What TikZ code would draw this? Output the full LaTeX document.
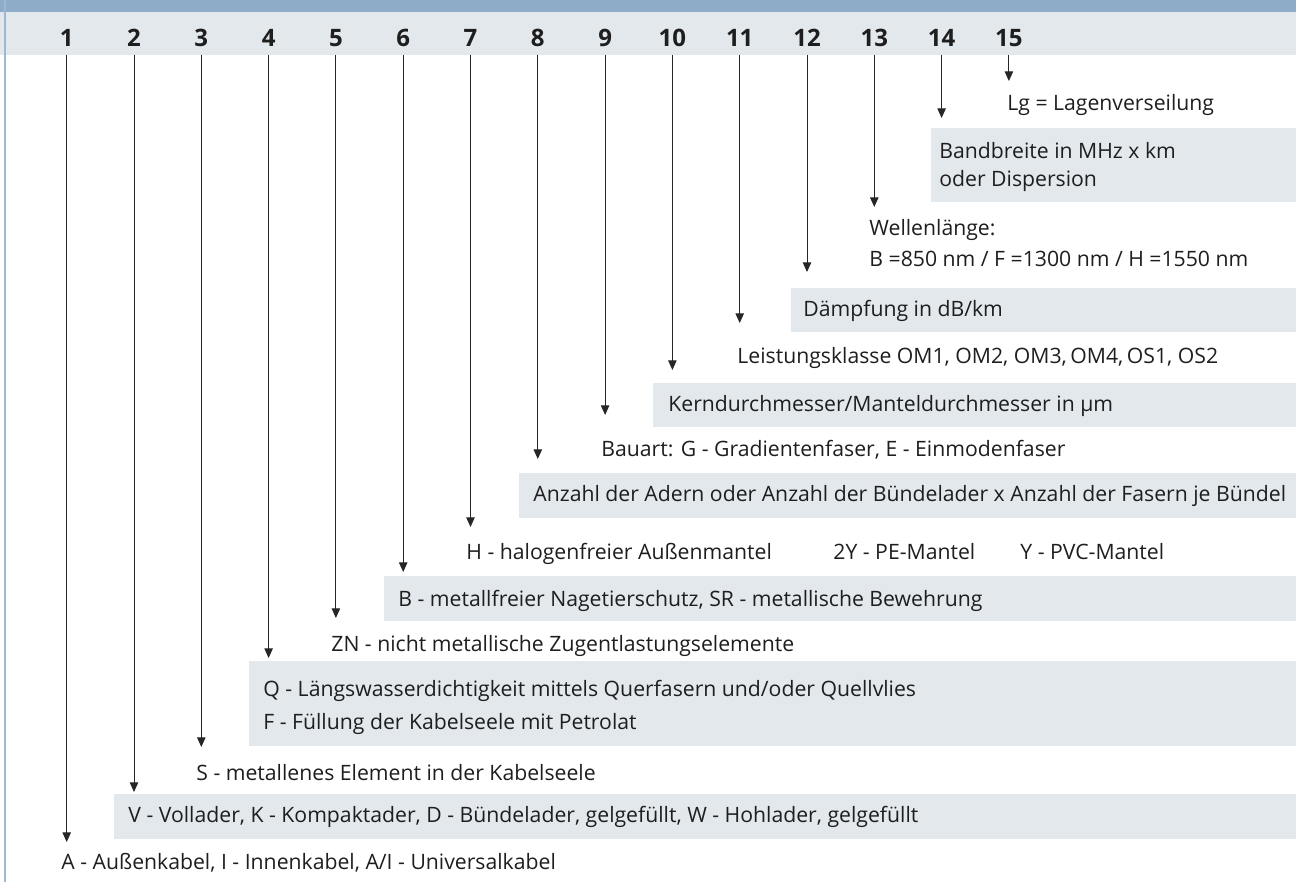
\documentclass[tikz,border=0pt]{standalone}
\usepackage{fontspec}
\setmainfont{Open Sans}
\usetikzlibrary{arrows.meta,positioning}
\definecolor{bandblau}{HTML}{8EACC8}
\definecolor{feldgrau}{HTML}{E3E8ED}
\definecolor{randblau}{HTML}{9DB8D3}
\definecolor{schrift}{HTML}{1E1E1E}

\begin{document}
\begin{tikzpicture}[
    x=0.5pt, y=-0.5pt,
    >={Triangle[length=4.8pt,width=4.2pt]},
    nummer/.style={font=\fontsize{12}{14}\selectfont\bfseries, text=schrift,
        anchor=base, inner sep=0pt},
    eintrag/.style={font=\fontsize{10.6}{13}\selectfont, text=schrift,
        anchor=base west, inner sep=0pt},
    pfeil/.style={->, line width=0.5pt, draw=black!85}
  ]
  \useasboundingbox (0,0) rectangle (1296,882);
  % Kopfleiste und Rand
  \fill[bandblau] (0,0) rectangle (1296,12);
  \fill[feldgrau] (0,12) rectangle (1296,55);
  \draw[randblau, line width=1pt] (4.5,0) -- (4.5,882);
  % graue Felder
  \fill[feldgrau] (931,128) rectangle (1296,202);
  \fill[feldgrau] (791,288) rectangle (1296,332);
  \fill[feldgrau] (653,383) rectangle (1296,427);
  \fill[feldgrau] (519,473) rectangle (1296,518);
  \fill[feldgrau] (384,576) rectangle (1296,621);
  \fill[feldgrau] (249,661) rectangle (1296,746);
  \fill[feldgrau] (114,794) rectangle (1296,839);
  % Nummern und Pfeile
  \foreach \i/\ty in {1/842,2/792,3/747,4/658,5/618,6/572,7/527,8/459,
                      9/415,10/370,11/323,12/272,13/207,14/118,15/81} {
    \node[nummer] (n\i) at ({66.7+67.3*(\i-1)},47) {\i};
    \coordinate (s\i) at ({66.7+67.3*(\i-1)},55);
    \coordinate (t\i) at ({66.7+67.3*(\i-1)},\ty);
    \draw[pfeil] (s\i) -- (t\i);
  }
  % Beschriftungen
  \node[eintrag] (lg) at (1007,110.5) {Lg = Lagenverseilung};
  \node[eintrag] (band1) at (939,158.7) {Bandbreite in MHz x km};
  \node[eintrag] (band2) at (939,186.7) {oder Dispersion};
  \node[eintrag] (welle1) at (869,235.7) {Wellenlänge:};
  \node[eintrag] (welle2) at (869,267) {B =850 nm / F =1300 nm / H =1550 nm};
  \node[eintrag] (daempf) at (803,316) {Dämpfung in dB/km};
  \node[eintrag] (klasse) at (737,364) {Leistungsklasse OM1, OM2, OM3,\,OM4,\,OS1, OS2};
  \node[eintrag] (kern) at (668,411.7) {Kerndurchmesser/Manteldurchmesser in µm};
  \node[eintrag] (bauart) at (601,456.7) {Bauart: G - Gradientenfaser, E - Einmodenfaser};
  \node[eintrag] (anzahl) at (533,501.7) {Anzahl der Adern oder Anzahl der Bündelader x Anzahl der Fasern je Bündel};
  \node[eintrag] (mantelH) at (466,559.3) {H - halogenfreier Außenmantel};
  \node[eintrag] (mantelPE) at (833,559.3) {2Y - PE-Mantel};
  \node[eintrag] (mantelPVC) at (1020,559.3) {Y - PVC-Mantel};
  \node[eintrag] (schutz) at (398,606) {B - metallfreier Nagetierschutz, SR - metallische Bewehrung};
  \node[eintrag] (zug) at (331,651) {ZN - nicht metallische Zugentlastungselemente};
  \node[eintrag] (quer) at (263,696.7) {Q - Längswasserdichtigkeit mittels Querfasern und/oder Quellvlies};
  \node[eintrag] (fuell) at (263,729.3) {F - Füllung der Kabelseele mit Petrolat};
  \node[eintrag] (seele) at (196,780.3) {S - metallenes Element in der Kabelseele};
  \node[eintrag] (ader) at (128,822.7) {V - Vollader, K - Kompaktader, D - Bündelader, gelgefüllt, W - Hohlader, gelgefüllt};
  \node[eintrag] (kabel) at (61,869.3) {A - Außenkabel, I - Innenkabel, A/I - Universalkabel};
\end{tikzpicture}
\end{document}
